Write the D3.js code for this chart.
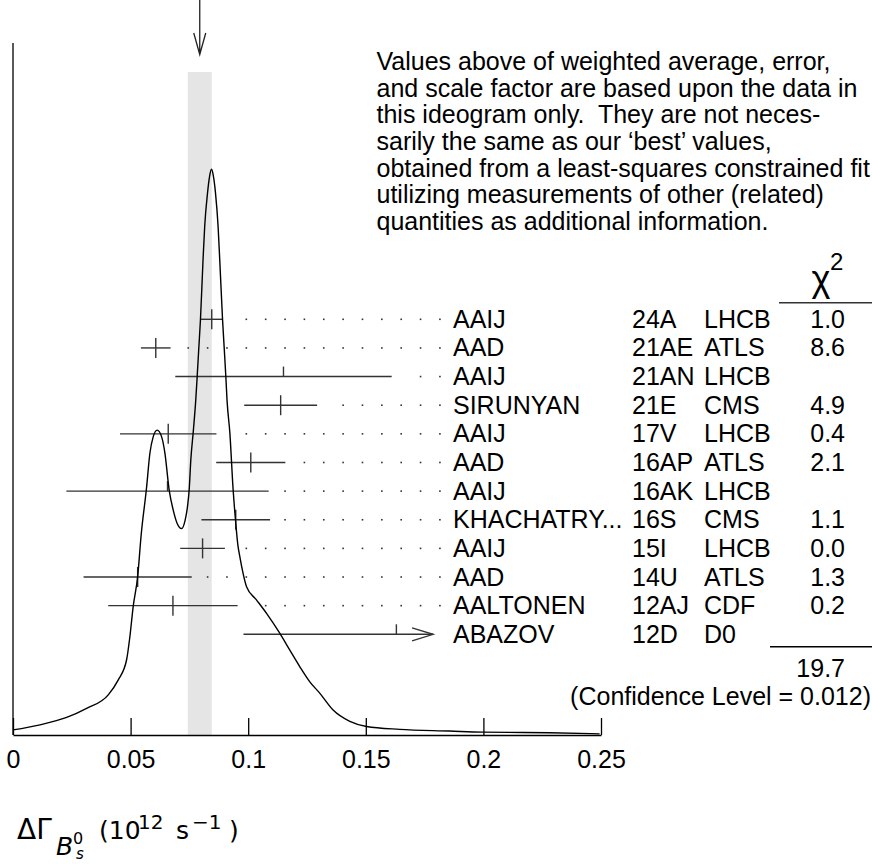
<!DOCTYPE html>
<html>
<head>
<meta charset="utf-8">
<script src="https://cdn.jsdelivr.net/npm/d3@7"></script>
<style>
  body { margin: 0; background: #fff; }
  text { font-family: "Liberation Sans", Arial, sans-serif; fill: #000; white-space: pre; }
</style>
</head>
<body>
<script>
// measurements of Delta Gamma_s (10^12 s^-1), top row first
var authors = ["AAIJ", "AAD", "AAIJ", "SIRUNYAN", "AAIJ", "AAD", "AAIJ", "KHACHATRY...", "AAIJ", "AAD", "AALTONEN", "ABAZOV"];
var refs = ["24A", "21AE", "21AN", "21E", "17V", "16AP", "16AK", "16S", "15I", "14U", "12AJ", "12D"];
var experiments = ["LHCB", "ATLS", "LHCB", "CMS", "LHCB", "ATLS", "LHCB", "CMS", "LHCB", "ATLS", "CDF", "D0"];
var values = [0.0845, 0.0607, 0.115, 0.1138, 0.066, 0.1011, 0.0657, 0.0947, 0.0806, 0.053, 0.068, 0.163];
var errors = [0.0047, 0.0063, 0.046, 0.0155, 0.0205, 0.0147, 0.043, 0.0146, 0.0095, 0.023, 0.0275, 0.065];
var chi2 = ["1.0", "8.6", "", "4.9", "0.4", "2.1", "", "1.1", "0.0", "1.3", "0.2", ""];
var chi2Total = "19.7";
var confidence = "(Confidence Level = 0.012)";

// weighted average and its error
var mean = 0.0794;
var meanErr = 0.0051;

// ideogram curve (relative height, peak = 1)
var curveX = [0, 0.0115, 0.0228, 0.0313, 0.0405, 0.0447, 0.0483, 0.0497, 0.0511, 0.053,
  0.0545, 0.0568, 0.0582, 0.0596, 0.0613, 0.0632, 0.0646, 0.0664, 0.0681, 0.0698,
  0.0717, 0.0732, 0.0742, 0.0749, 0.0756, 0.0767, 0.0777, 0.0783, 0.079, 0.0797,
  0.0808, 0.0815, 0.0827, 0.0836, 0.0844, 0.0852, 0.0861, 0.0872, 0.0879, 0.0891,
  0.0898, 0.0905, 0.091, 0.0922, 0.0936, 0.0946, 0.0956, 0.0964, 0.0978, 0.0993,
  0.1035, 0.1078, 0.1134, 0.1177, 0.1219, 0.1262, 0.1304, 0.1361, 0.1432, 0.1503,
  0.1644, 0.1856, 0.1997, 0.2281, 0.2494];
var curveY = [0.009, 0.018, 0.031, 0.047, 0.071, 0.097, 0.133, 0.174, 0.227, 0.28,
  0.354, 0.438, 0.498, 0.527, 0.539, 0.527, 0.498, 0.433, 0.398, 0.374,
  0.365, 0.38, 0.404, 0.433, 0.486, 0.539, 0.592, 0.633, 0.684, 0.734,
  0.84, 0.899, 0.958, 0.988, 1.0, 0.988, 0.958, 0.899, 0.84, 0.734,
  0.684, 0.633, 0.592, 0.534, 0.433, 0.38, 0.336, 0.316, 0.286, 0.262,
  0.239, 0.215, 0.18, 0.15, 0.121, 0.094, 0.074, 0.044, 0.024, 0.015,
  0.01, 0.007, 0.005, 0.004, 0.002];

var tickValues = [0, 0.05, 0.1, 0.15, 0.2, 0.25];
var tickLabels = ["0", "0.05", "0.1", "0.15", "0.2", "0.25"];

var noteLines = [
  "Values above of weighted average, error,",
  "and scale factor are based upon the data in",
  "this ideogram only.  They are not neces-",
  "sarily the same as our \u2018best\u2019 values,",
  "obtained from a least-squares constrained fit",
  "utilizing measurements of other (related)",
  "quantities as additional information."
];

var width = 872, height = 864;
var baseY = 735;
var fontSize = 25;
var barLimit = 0.1786; // bars stop at the label column

var svg = d3.select("body").append("svg")
  .attr("width", width)
  .attr("height", height);

var x = d3.scaleLinear().domain([0, 0.25]).range([13, 601]);
var y = d3.scaleLinear().domain([0, 1]).range([baseY, 169.3]);
var row = d3.scaleLinear().domain([0, 11]).range([319.3, 634.3]);

// band of the weighted average
svg.append("rect")
  .attr("x", x(mean - meanErr))
  .attr("y", 72)
  .attr("width", x(mean + meanErr) - x(mean - meanErr))
  .attr("height", baseY - 72)
  .attr("fill", "#e5e5e5");

// arrow pointing at the average
svg.append("path")
  .attr("d", "M" + x(mean) + ",0V54.5M" + (x(mean) - 6) + ",33L" + x(mean) + ",54.5L" + (x(mean) + 6) + ",33")
  .attr("fill", "none")
  .attr("stroke", "#222")
  .attr("stroke-width", 1.3);

// left frame line
svg.append("line")
  .attr("x1", 13).attr("x2", 13)
  .attr("y1", 43).attr("y2", baseY)
  .attr("stroke", "#000").attr("stroke-width", 1.3);

// x axis with ticks pointing up
var axis = svg.append("g")
  .attr("transform", "translate(0," + baseY + ")")
  .call(d3.axisBottom(x)
    .tickValues(tickValues)
    .tickFormat(function(d, i) { return tickLabels[i]; })
    .tickSizeInner(-17)
    .tickSizeOuter(0)
    .tickPadding(15));
axis.selectAll("path, line").attr("stroke", "#000").attr("stroke-width", 1.3);
axis.selectAll("text")
  .attr("font-family", "'Liberation Sans', Arial, sans-serif")
  .attr("font-size", fontSize)
  .attr("fill", "#000");

// dotted leaders
var dotStep = 19.36;
var dotCols = d3.range(0, 23).map(function(k) { return x(0) + 1 + k * dotStep; });

var rows = svg.append("g");
values.forEach(function(v, i) {
  var yy = row(i);
  var hi = Math.min(v + errors[i], barLimit);
  var endPx = x(hi);
  dotCols.forEach(function(px) {
    if (px > endPx + 12) {
      rows.append("rect")
        .attr("x", px - 0.8).attr("y", yy - 0.8)
        .attr("width", 1.6).attr("height", 1.6)
        .attr("fill", "#333");
    }
  });

  rows.append("line")
    .attr("x1", x(v - errors[i])).attr("x2", endPx)
    .attr("y1", yy).attr("y2", yy)
    .attr("stroke", "#333").attr("stroke-width", 1.4);

  var used = chi2[i] !== "";
  rows.append("line")
    .attr("x1", x(v)).attr("x2", x(v))
    .attr("y1", yy - 10).attr("y2", used ? yy + 10 : yy)
    .attr("stroke", "#333").attr("stroke-width", 1.4);

  if (v + errors[i] > barLimit) {
    rows.append("path")
      .attr("d", "M" + (endPx - 21) + "," + (yy - 6.5) + "L" + endPx + "," + yy + "L" + (endPx - 21) + "," + (yy + 6.5))
      .attr("fill", "none")
      .attr("stroke", "#333").attr("stroke-width", 1.4);
  }

  rows.append("text").attr("x", 453).attr("y", yy + 8.5).attr("font-size", fontSize).text(authors[i]);
  rows.append("text").attr("x", 632).attr("y", yy + 8.5).attr("font-size", fontSize).text(refs[i]);
  rows.append("text").attr("x", 704).attr("y", yy + 8.5).attr("font-size", fontSize).text(experiments[i]);
  rows.append("text").attr("x", 845).attr("y", yy + 8.5).attr("font-size", fontSize)
    .attr("text-anchor", "end").text(chi2[i]);
});

// ideogram
var line = d3.line()
  .x(function(d, i) { return x(curveX[i]); })
  .y(function(d) { return y(d); })
  .curve(d3.curveMonotoneX);
svg.append("path")
  .attr("d", line(curveY))
  .attr("fill", "none")
  .attr("stroke", "#000")
  .attr("stroke-width", 1.4);

// note
svg.append("g").selectAll("text")
  .data(noteLines)
  .enter().append("text")
  .attr("x", 376.5)
  .attr("y", function(d, i) { return 70 + i * 26.67; })
  .attr("font-size", fontSize)
  .text(function(d) { return d; });

// chi-square header and totals
svg.append("text").attr("x", 821).attr("y", 291).attr("font-size", 36)
  .attr("text-anchor", "middle").text("\u03c7");
svg.append("text").attr("x", 830).attr("y", 270).attr("font-size", 24).text("2");
svg.append("line").attr("x1", 779).attr("x2", 872).attr("y1", 302.7).attr("y2", 302.7)
  .attr("stroke", "#333").attr("stroke-width", 1.4);
svg.append("line").attr("x1", 770).attr("x2", 872).attr("y1", 646.7).attr("y2", 646.7)
  .attr("stroke", "#000").attr("stroke-width", 1.4);
svg.append("text").attr("x", 845).attr("y", 676.5).attr("font-size", fontSize)
  .attr("text-anchor", "end").text(chi2Total);
svg.append("text").attr("x", 871).attr("y", 705).attr("font-size", fontSize)
  .attr("text-anchor", "end").text(confidence);

// axis title
var title = svg.append("g");
function tpart(tx, ty, size, str, italic) {
  title.append("text").attr("x", tx).attr("y", ty).attr("font-size", size)
    .style("font-family", "'DejaVu Sans', sans-serif")
    .style("font-style", italic ? "italic" : "normal")
    .text(str);
}
tpart(17, 839, 28, "\u0394\u0393");
tpart(56, 855, 25, "B", true);
tpart(73, 844, 16, "0");
tpart(76, 859, 15, "s", true);
tpart(99, 839, 25, "(10");
tpart(138, 829, 20, "12");
tpart(176, 839, 25, "s");
tpart(192, 829, 20, "\u22121");
tpart(229, 839, 25, ")");
</script>
</body>
</html>
